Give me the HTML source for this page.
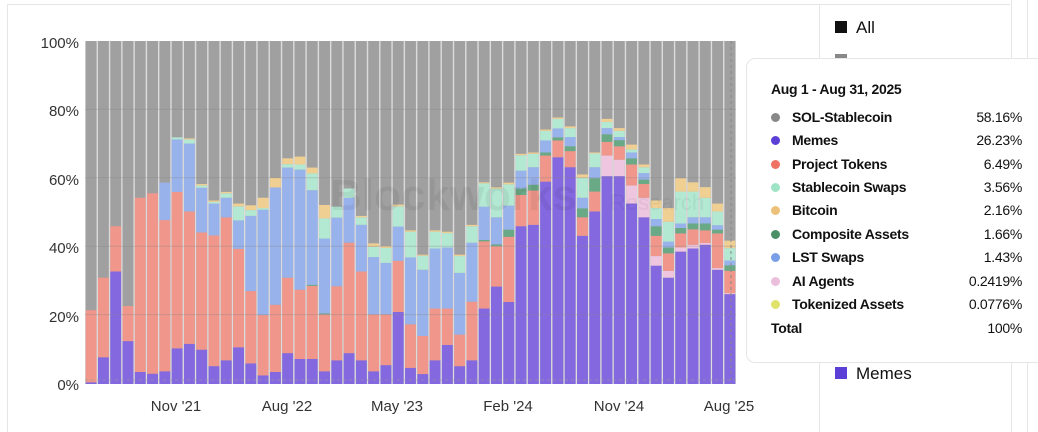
<!DOCTYPE html>
<html><head><meta charset="utf-8"><style>
body{margin:0;width:1038px;height:432px;overflow:hidden;background:#fff;font-family:"Liberation Sans",sans-serif;position:relative}
.tt{position:absolute;left:746px;top:58px;width:300px;height:305px;background:#fff;border:1px solid #e6e6e6;border-radius:9px;box-sizing:border-box}
.tt .h{position:absolute;left:24px;top:22px;font-weight:bold;font-size:14px;color:#111;letter-spacing:-0.3px}
.row{position:absolute;left:24px;width:251px;font-size:14px;font-weight:bold;color:#111;height:18px;line-height:18px;letter-spacing:-0.3px}
.row i{position:absolute;left:0;top:5px;width:9px;height:9px;border-radius:50%}
.row span{position:absolute;left:21px}
.row b{position:absolute;right:0;font-weight:normal}
</style></head><body>
<svg width="1038" height="432" style="position:absolute;left:0;top:0" id="s">
<line x1="7" y1="4.5" x2="1010" y2="4.5" stroke="#e6e6e6"/>
<line x1="7.5" y1="4" x2="7.5" y2="432" stroke="#e6e6e6"/>
<line x1="819.5" y1="4" x2="819.5" y2="432" stroke="#e6e6e6"/>
<line x1="1011.5" y1="0" x2="1011.5" y2="432" stroke="#e6e6e6"/>
<line x1="1027.5" y1="0" x2="1027.5" y2="432" stroke="#e6e6e6"/>
<rect x="85" y="41" width="651" height="343" fill="#dcdcdc"/>
<g id="bars"></g>
<g stroke="#888" stroke-opacity="0.35">
<line x1="85" x2="736" y1="109.4" y2="109.4"/><line x1="85" x2="736" y1="177.8" y2="177.8"/><line x1="85" x2="736" y1="246.2" y2="246.2"/><line x1="85" x2="736" y1="314.6" y2="314.6"/>
</g>
<line x1="85" x2="736" y1="380" y2="380" stroke="#999" stroke-dasharray="3,3" stroke-opacity="0.6"/>
<line x1="731" x2="731" y1="41" y2="384" stroke="#888" stroke-dasharray="3,3"/>
<text x="330" y="210" font-size="44" font-weight="bold" fill="#000" fill-opacity="0.06">Blockworks</text>
<text x="610" y="210" font-size="22" fill="#000" fill-opacity="0.05">Research</text>
<g font-size="15" fill="#333" text-anchor="end">
<text x="79" y="48">100%</text><text x="79" y="116">80%</text><text x="79" y="185">60%</text><text x="79" y="253">40%</text><text x="79" y="322">20%</text><text x="79" y="390">0%</text>
</g>
<g font-size="15" fill="#333" text-anchor="middle">
<text x="176" y="411">Nov '21</text><text x="287" y="411">Aug '22</text><text x="397" y="411">May '23</text><text x="508" y="411">Feb '24</text><text x="619" y="411">Nov '24</text><text x="729" y="411">Aug '25</text>
</g>
<rect x="835" y="21" width="12" height="12" fill="#111"/>
<text x="856" y="33" font-size="17" fill="#111">All</text>
<rect x="835" y="54" width="12" height="6" fill="#888"/>
<rect x="835" y="367" width="12" height="12" fill="#5b3fd6"/>
<text x="856" y="379" font-size="17" fill="#111">Memes</text>
</svg>
<div class="tt">
<div class="h">Aug 1 - Aug 31, 2025</div>
<div class="row" style="top:49px"><i style="background:#888"></i><span>SOL-Stablecoin</span><b>58.16%</b></div>
<div class="row" style="top:72px"><i style="background:#5b3fd6"></i><span>Memes</span><b>26.23%</b></div>
<div class="row" style="top:96px"><i style="background:#ee7362"></i><span>Project Tokens</span><b>6.49%</b></div>
<div class="row" style="top:119px"><i style="background:#9fe3c6"></i><span>Stablecoin Swaps</span><b>3.56%</b></div>
<div class="row" style="top:142px"><i style="background:#ecc27a"></i><span>Bitcoin</span><b>2.16%</b></div>
<div class="row" style="top:166px"><i style="background:#4a8f68"></i><span>Composite Assets</span><b>1.66%</b></div>
<div class="row" style="top:189px"><i style="background:#7a9ee8"></i><span>LST Swaps</span><b>1.43%</b></div>
<div class="row" style="top:213px"><i style="background:#ebbfdc"></i><span>AI Agents</span><b>0.2419%</b></div>
<div class="row" style="top:236px"><i style="background:#dfe36a"></i><span>Tokenized Assets</span><b>0.0776%</b></div>
<div class="row" style="top:260px"><span style="left:0">Total</span><b>100%</b></div>
</div>
<script>
// cumulative tops: memes, AI, proj, comp, LST, mint, btc
var D=[
[0.5,0.5,21.5,21.5,21.5,21.5,21.5],[7.8,7.8,31,31,31,31,31],[32.8,32.8,46,46,46,46,46],[12.5,12.5,22.7,22.7,22.7,22.7,22.7],
[3.5,3.5,54.3,54.3,54.3,54.3,54.3],[3,3,55.6,55.6,55.6,55.6,55.6],[3.7,3.7,47.8,47.8,58.7,58.7,58.7],[10.4,10.4,56,56,71.3,71.9,71.9],
[11.7,11.7,50.3,50.3,70.1,71.3,71.6],[10,10,44.2,44.2,57.2,57.9,58.3],[5.2,5.2,43.3,43.3,52.6,53.1,53.5],[6.9,6.9,48.6,48.6,54.3,55.6,56],
[10.7,10.7,39.4,39.4,47.7,51.8,52.6],[6,6,27.1,27.1,49,50.7,52.1],[2.5,2.5,20.1,20.1,50.8,51.3,54.3],[3.5,3.5,23.1,23.1,57.3,57.3,60.1],
[9,9,31,31,63.1,64.1,65.8],[7.3,7.3,27.5,27.5,62.5,64,66.3],[7.3,7.3,28.6,28.9,56.5,61.4,63.1],[3.7,3.7,20.3,20.6,42.4,48.3,52.2],
[6.9,6.9,28.5,28.5,48.5,51.7,51.7],[9,9,41.2,41.2,54.3,57,57],[6.9,6.9,32.8,32.8,46.4,48.6,49],[3.7,3.7,20.3,20.3,37,40,41],
[5.5,5.5,20.3,20.3,35.3,39.7,40.2],[21,21,35.9,35.9,45.9,51.8,52.3],[4.7,4.7,17.4,17.4,36.9,44.4,44.8],[2.9,2.9,14,14,33.3,37.4,37.7],
[6.9,6.9,22,22,39.5,44.4,44.8],[11.4,11.4,22,22,39.8,44,44.4],[5.2,5.2,14.4,14.4,32.4,37.3,37.7],[6.9,6.9,24,24,41.2,46,46.4],
[22,22,41.6,42,51.7,58.5,58.8],[28.4,28.4,40.2,40.7,48.6,57,57.4],[23.9,23.9,42.9,45,52,58.2,58.7],[46,46,55.1,57,62.2,66.7,67.1],
[46.4,46.4,56.4,58.1,63.2,67.1,67.5],[59,59,66.6,67.5,71,73.8,74.2],[66.1,66.1,71,71.9,74.5,77.3,77.7],[63.2,63.2,67.9,69.3,72,74.6,75.1],
[43.2,43.2,48.6,51.2,54.3,60.1,61.1],[50.3,50.3,56.1,60,63.2,67.2,67.5],[60.6,66.6,70.6,72.8,74.6,76.4,77.3],[60.6,65.4,69.3,71.1,72,73.8,74.6],
[52.6,57.9,64,65.8,67.5,68.4,69.8],[48.6,54.3,58.3,59.6,61.5,63.2,64],[34.5,37.3,43.2,46,48.1,51.3,53.5],[31,33,38.1,39.8,41.5,47.3,51.3],
[38.6,39.8,43.9,45.5,46.8,56.1,60],[39.5,40.6,45.1,46.8,48.6,56.1,58.8],[40.6,41.1,44.8,46.8,48.6,54.3,57.4],[33.3,33.8,43.9,45,46.3,50.3,52.6],
[26.2,26.5,33,34.6,36,39.6,41.8]];
var C=["#8468e0","#efc6e0","#f0968a","#6aa986","#98b2ec","#b3e8d2","#f0cf93"];
var g=document.getElementById('bars'),h='',pw=651/53;
function Y(v){return 384-v*3.43;}
for(var i=0;i<53;i++){var x=(85+i*pw+0.7).toFixed(2),w=(pw-1.4).toFixed(2),d=D[i],p=0;
h+='<rect x="'+x+'" y="41" width="'+w+'" height="343" fill="#a0a0a0"/>';
for(var k=0;k<7;k++){var v=d[k];if(v>p){h+='<rect x="'+x+'" y="'+Y(v).toFixed(2)+'" width="'+w+'" height="'+((v-p)*3.43).toFixed(2)+'" fill="'+C[k]+'"/>';}p=Math.max(p,v);}}
g.innerHTML=h;
</script>
</body></html>
